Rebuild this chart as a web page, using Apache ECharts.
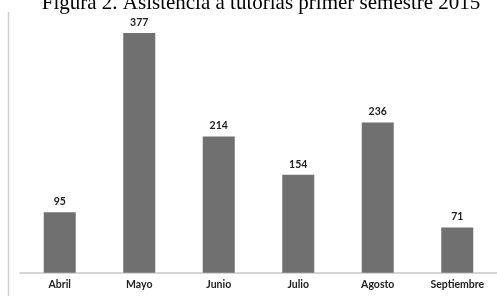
<!DOCTYPE html>
<html>
<head>
<meta charset="utf-8">
<script src="https://cdn.jsdelivr.net/npm/echarts@6/dist/echarts.min.js"></script>
<style>
  html, body { margin: 0; padding: 0; background: #fff; }
  #chart { width: 497px; height: 296px; }
</style>
</head>
<body>
<div id="chart"></div>
<script>
// asistencia a tutorías por mes
const meses = ['Abril', 'Mayo', 'Junio', 'Julio', 'Agosto', 'Septiembre']
const asistencia = [95, 377, 214, 154, 236, 71]
const titulo = 'Figura 2. Asistencia a tutorías primer semestre 2015'

const chart = echarts.init(document.getElementById('chart'))

chart.setOption({
  animation: false,
  // el título queda cortado por arriba, como en la imagen original
  title: {
    text: titulo,
    left: 256,
    top: -12,
    textAlign: 'center',
    textStyle: {
      fontFamily: 'Liberation Serif',
      fontWeight: 'normal',
      fontSize: 21,
      color: '#000'
    }
  },
  grid: { left: 20, right: 0, top: 18.3, bottom: 23.3 },
  xAxis: {
    type: 'category',
    data: meses,
    axisLine: { lineStyle: { color: '#c8c8c8', width: 1.5 } },
    axisTick: { show: false },
    axisLabel: {
      margin: 6,
      fontFamily: 'Lato',
      fontWeight: 'bold',
      fontSize: 10.5,
      color: '#222'
    }
  },
  yAxis: {
    type: 'value',
    min: 0,
    max: 400,
    show: false
  },
  // borde izquierdo de la figura
  graphic: [{
    type: 'line',
    shape: { x1: 8.5, y1: 12, x2: 8.5, y2: 296 },
    style: { stroke: '#cfcfcf', lineWidth: 1.5 }
  }],
  series: [{
    type: 'bar',
    data: asistencia,
    barWidth: 32,
    itemStyle: { color: '#707070' },
    label: {
      show: true,
      position: 'top',
      distance: 5,
      fontFamily: 'Lato',
      fontWeight: 'bold',
      fontSize: 10.5,
      color: '#222'
    }
  }]
})
</script>
</body>
</html>
